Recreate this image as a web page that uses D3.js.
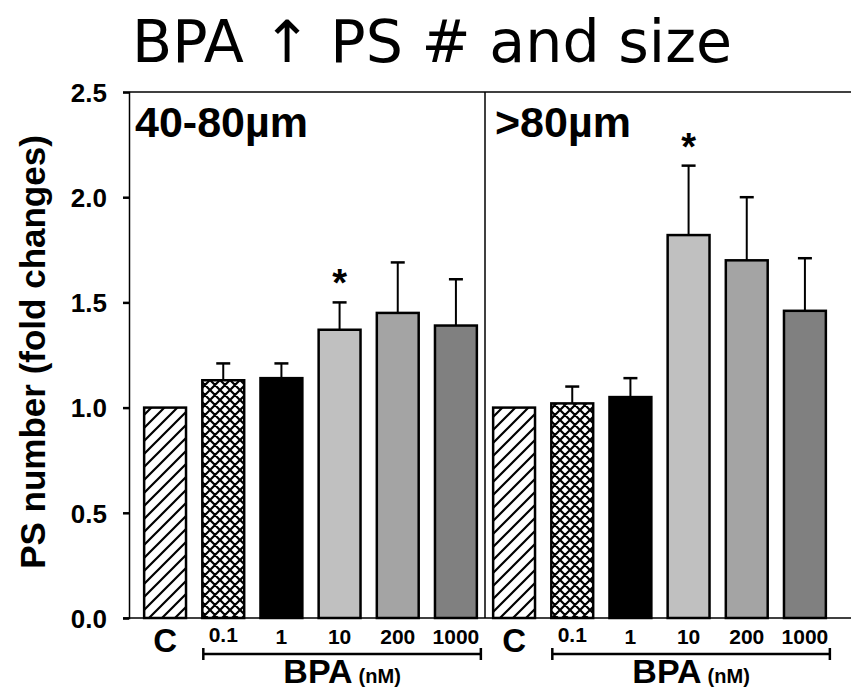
<!DOCTYPE html>
<html>
<head>
<meta charset="utf-8">
<script src="https://cdn.jsdelivr.net/npm/d3@7"></script>
<style>
  body { margin: 0; background: #fff; }
  svg { font-family: "Liberation Sans", Arial, sans-serif; }
</style>
</head>
<body>
<script>
// data
var panels = ["40-80µm", ">80µm"];
var doses = ["C", "0.1", "1", "10", "200", "1000"];
var means40 = [1.00, 1.13, 1.14, 1.37, 1.45, 1.39];
var errTop40 = [1.00, 1.21, 1.21, 1.50, 1.69, 1.61];
var means80 = [1.00, 1.02, 1.05, 1.82, 1.70, 1.46];
var errTop80 = [1.00, 1.10, 1.14, 2.15, 2.00, 1.71];
var signif40 = [false, false, false, true, false, false];
var signif80 = [false, false, false, true, false, false];
var yTicks = [0.0, 0.5, 1.0, 1.5, 2.0, 2.5];

var w = 853, h = 690;
var fills = ["url(#hatch)", "url(#cross)", "#000000", "#c0c0c0", "#a4a4a4", "#808080"];

var rows = [];
[[means40, errTop40, signif40], [means80, errTop80, signif80]].forEach(function (p, pi) {
    doses.forEach(function (d, i) {
        rows.push({ key: pi + "_" + d, panel: pi, dose: d, i: i, v: p[0][i], e: p[1][i], s: p[2][i] });
    });
});

var svg = d3.select("body").append("svg").attr("width", w).attr("height", h);

// patterns
var defs = svg.append("defs");
var hatch = defs.append("pattern").attr("id", "hatch").attr("patternUnits", "userSpaceOnUse")
    .attr("width", 13).attr("height", 13);
hatch.append("rect").attr("width", 13).attr("height", 13).attr("fill", "#fff");
hatch.append("path").attr("d", "M-2,15 L15,-2 M-2,2 L2,-2 M11,15 L15,11")
    .attr("stroke", "#000").attr("stroke-width", 2.2);
var cross = defs.append("pattern").attr("id", "cross").attr("patternUnits", "userSpaceOnUse")
    .attr("width", 10).attr("height", 10);
cross.append("rect").attr("width", 10).attr("height", 10).attr("fill", "#fff");
cross.append("path").attr("d", "M0,0 L10,10 M10,0 L0,10 M-1,9 L1,11 M9,-1 L11,1 M-1,1 L1,-1 M9,11 L11,9")
    .attr("stroke", "#000").attr("stroke-width", 2.2);

var x = d3.scaleBand().domain(rows.map(d => d.key)).range([136, 834]).paddingInner(0.28).paddingOuter(0.14);
var y = d3.scaleLinear().domain([0, 2.5]).range([618, 92]);

var left = 129, right = 851;
var divider = (x(rows[5].key) + x.bandwidth() + x(rows[6].key)) / 2;

// frame
svg.append("line").attr("x1", left).attr("x2", right).attr("y1", y(2.5)).attr("y2", y(2.5))
    .attr("stroke", "#000").attr("stroke-width", 1.5);
svg.append("line").attr("x1", divider).attr("x2", divider).attr("y1", y(2.5)).attr("y2", y(0))
    .attr("stroke", "#000").attr("stroke-width", 1.5);

// y axis
var yAxis = d3.axisLeft(y).tickValues(yTicks).tickFormat(d3.format(".1f")).tickSize(6).tickPadding(16);
var gy = svg.append("g").attr("transform", "translate(" + left + ",0)").call(yAxis);
gy.select(".domain").attr("stroke-width", 1.5);
gy.selectAll(".tick line").attr("stroke-width", 2.5);
gy.selectAll("text").attr("font-size", 26).attr("font-weight", "bold").attr("fill", "#000").attr("dy", "0.36em");

// error bars
var bars = svg.selectAll(".bar").data(rows).enter().append("g").attr("class", "bar");
bars.filter(d => d.e > d.v).append("line")
    .attr("x1", d => x(d.key) + x.bandwidth() / 2).attr("x2", d => x(d.key) + x.bandwidth() / 2)
    .attr("y1", d => y(d.v)).attr("y2", d => y(d.e)).attr("stroke", "#000").attr("stroke-width", 2);
bars.filter(d => d.e > d.v).append("line")
    .attr("x1", d => x(d.key) + x.bandwidth() / 2 - 7).attr("x2", d => x(d.key) + x.bandwidth() / 2 + 7)
    .attr("y1", d => y(d.e)).attr("y2", d => y(d.e)).attr("stroke", "#000").attr("stroke-width", 2.5);
bars.append("rect")
    .attr("x", d => x(d.key)).attr("width", x.bandwidth())
    .attr("y", d => y(d.v)).attr("height", d => y(0) - y(d.v))
    .attr("fill", d => fills[d.i]).attr("stroke", "#000").attr("stroke-width", 2.5);
bars.filter(d => d.s).append("text")
    .attr("x", d => x(d.key) + x.bandwidth() / 2).attr("y", d => y(d.e) - 6)
    .attr("text-anchor", "middle").attr("font-size", 38).attr("font-weight", "bold").text("*");

// baseline
svg.append("line").attr("x1", left - 6).attr("x2", right).attr("y1", y(0)).attr("y2", y(0))
    .attr("stroke", "#000").attr("stroke-width", 1.5);

// category labels
svg.selectAll(".cat").data(rows).enter().append("text").attr("class", "cat")
    .attr("x", d => x(d.key) + x.bandwidth() / 2)
    .attr("y", d => d.i == 0 ? 652 : (d.i == 1 ? 642 : 644))
    .attr("text-anchor", "middle").attr("font-weight", "bold")
    .attr("font-size", d => d.i == 0 ? 33 : 21)
    .text(d => d.dose);

// BPA brackets
[0, 1].forEach(function (pi) {
    var x0 = x(pi + "_0.1") + 1, x1 = x(pi + "_1000") + x.bandwidth() + 4;
    var g = svg.append("g");
    g.append("line").attr("x1", x0).attr("x2", x1).attr("y1", 654).attr("y2", 654).attr("stroke", "#000").attr("stroke-width", 2.5);
    g.append("line").attr("x1", x0).attr("x2", x0).attr("y1", 648).attr("y2", 660).attr("stroke", "#000").attr("stroke-width", 2.5);
    g.append("line").attr("x1", x1).attr("x2", x1).attr("y1", 648).attr("y2", 660).attr("stroke", "#000").attr("stroke-width", 2.5);
    var t = g.append("text").attr("x", (x0 + x1) / 2).attr("y", 683).attr("text-anchor", "middle").attr("font-weight", "bold");
    t.append("tspan").attr("font-size", 34).text("BPA");
    t.append("tspan").attr("font-size", 20).attr("dx", 6).text("(nM)");
    svg.append("text").attr("x", pi == 0 ? 135 : divider + 10).attr("y", 137)
        .attr("font-size", 43).attr("font-weight", "bold").text(panels[pi]);
});

// axis title
svg.append("text").attr("transform", "translate(45,352) rotate(-90)")
    .attr("text-anchor", "middle").attr("font-size", 35).attr("font-weight", "bold").text("PS number (fold changes)");

// chart title
svg.append("text").attr("x", 432).attr("y", 62).attr("text-anchor", "middle")
    .style("font-family", "'Comic Sans MS', 'DejaVu Sans', sans-serif").attr("font-size", 58)
    .attr("textLength", 600).attr("lengthAdjust", "spacingAndGlyphs")
    .text("BPA ↑ PS # and size");
</script>
</body>
</html>
